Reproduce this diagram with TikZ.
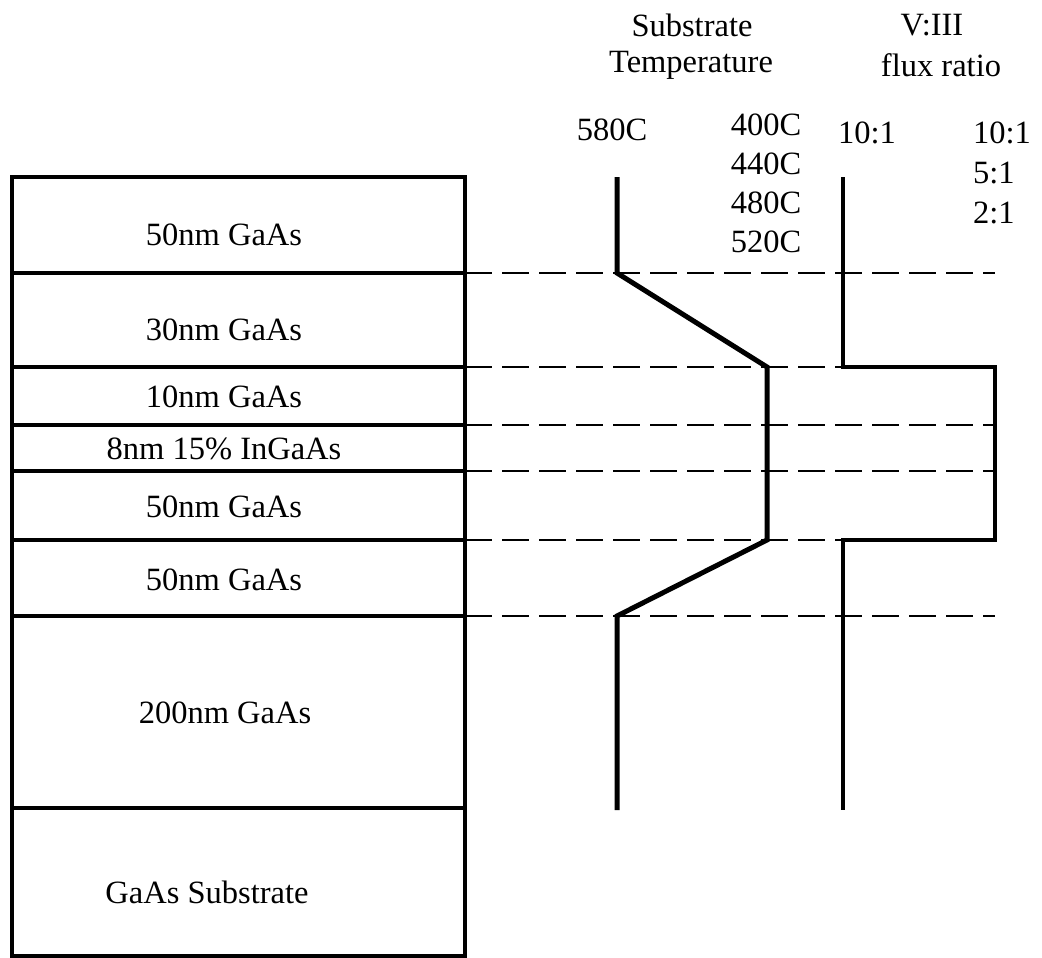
\documentclass[tikz,border=0pt]{standalone}
\usepackage{fontspec}
\setmainfont{Liberation Serif}
\begin{document}
\begin{tikzpicture}[x=1pt,y=-1pt,
  lbl/.style={inner sep=0pt,font=\fontsize{32.5}{38}\selectfont},
  layer/.style={line width=3.5pt},
  guide/.style={line width=1.6pt,dash pattern=on 27pt off 10pt},
  prof/.style={line width=5pt,line join=miter}]
\useasboundingbox (0,0) rectangle (1042,958);
% layer boundaries
\coordinate (L0) at (12,177);
\coordinate (R0) at (465,177);
\foreach \n/\y in {1/273,2/367,3/425,4/471,5/540,6/616,7/808,8/956}{
  \coordinate (L\n) at (12,\y);
  \coordinate (R\n) at (465,\y);
}
\draw[layer] (L0) -- (R0) -- (R8) -- (L8) -- cycle;
\foreach \n in {1,...,7}{\draw[layer] (L\n) -- (R\n);}
% labels
\node[lbl] (t1) at (224,235) {50nm GaAs};
\node[lbl] (t2) at (224,330) {30nm GaAs};
\node[lbl] (t3) at (224,397) {10nm GaAs};
\node[lbl] (t4) at (224,449) {8nm 15\% InGaAs};
\node[lbl] (t5) at (224,507) {50nm GaAs};
\node[lbl] (t6) at (224,580) {50nm GaAs};
\node[lbl] (t7) at (225,713) {200nm GaAs};
\node[lbl] (t8) at (207,892) {GaAs Substrate};
% dashed guides
\foreach \n in {1,...,6}{
  \coordinate (E\n) at (995,0 |- R\n);
  \draw[guide] (R\n) -- (E\n);
}
% headings
\node[lbl] (h1) at (692,25) {Substrate};
\node[lbl] (h2) at (691,65) {Temperature};
\node[lbl] (h3) at (932,25) {V:III};
\node[lbl] (h4) at (941,65) {flux ratio};
\node[lbl] (c580) at (612,130) {580C};
\node[lbl] (c400) at (766,125) {400C};
\node[lbl] (c440) at (766,164) {440C};
\node[lbl] (c480) at (766,203) {480C};
\node[lbl] (c520) at (766,242) {520C};
\node[lbl] (f10a) at (867,133) {10:1};
\node[lbl,anchor=west] (f10b) at (973,133) {10:1};
\node[lbl,anchor=west] (f5) at (973,173) {5:1};
\node[lbl,anchor=west] (f2) at (973,213) {2:1};
% temperature profile
\coordinate (T0) at (617,177);
\coordinate (T1) at (617,273);
\coordinate (T2) at (767,367);
\coordinate (T3) at (767,540);
\coordinate (T4) at (617,616);
\coordinate (T5) at (617,810);
\draw[prof] (T0) -- (T1) -- (T2) -- (T3) -- (T4) -- (T5);
% flux profile
\coordinate (F0) at (843,177);
\coordinate (F1) at (843,367);
\coordinate (F2) at (995,367);
\coordinate (F3) at (995,540);
\coordinate (F4) at (843,540);
\coordinate (F5) at (843,810);
\draw[prof,line width=4.5pt] (F0) -- (F1) -- (F2) -- (F3) -- (F4) -- (F5);
\end{tikzpicture}
\end{document}
